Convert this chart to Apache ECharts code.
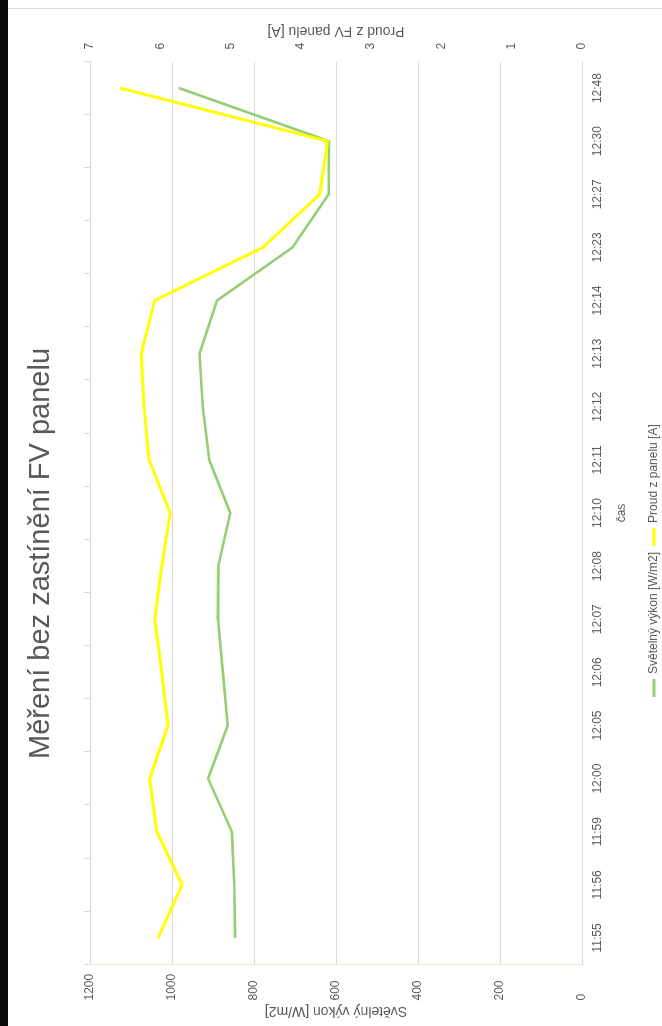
<!DOCTYPE html>
<html>
<head>
<meta charset="utf-8">
<script src="https://cdn.jsdelivr.net/npm/echarts@6/dist/echarts.min.js"></script>
<style>
  html, body { margin: 0; padding: 0; background: #fff; overflow: hidden; width: 662px; height: 1026px; }
  #edge { position: absolute; left: 0; top: 0; width: 8px; height: 1026px; background: #0a0a0a; }
  #frame { position: absolute; left: 8px; top: 8px; width: 660px; height: 1px; background: #dcdcdc; }
  /* chart is laid out landscape and turned a quarter turn counter-clockwise */
  #chart { position: absolute; left: 0; top: 1026px; width: 1026px; height: 662px;
           transform-origin: 0 0; transform: rotate(-90deg); }
</style>
</head>
<body>
<div id="edge"></div>
<div id="frame"></div>
<div id="chart"></div>
<script>
// measurement times
const categories = ['11:55', '11:56', '11:59', '12:00', '12:05', '12:06', '12:07', '12:08',
                    '12:10', '12:11', '12:12', '12:13', '12:14', '12:23', '12:27', '12:30', '12:48'];
// light power [W/m2]
const irradiance = [846, 848, 854, 912, 864, 876, 888, 887, 858, 909, 925, 933, 890, 706, 618, 617, 983];
// panel current [A]
const current = [6.03, 5.69, 6.05, 6.15, 5.89, 5.98, 6.08, 5.98, 5.86, 6.16, 6.23, 6.27, 6.08, 4.54, 3.73, 3.62, 6.57];

const seriesNames = ['Světelný výkon [W/m2]', 'Proud z panelu [A]'];
const txt = '#595959';
const font = '"Liberation Sans", Arial, sans-serif';

const chart = echarts.init(document.getElementById('chart'), null, { renderer: 'canvas', width: 1026, height: 662 });
chart.setOption({
  animation: false,
  textStyle: { fontFamily: font, color: txt },
  title: {
    text: 'Měření bez zastínění FV panelu',
    left: 262, top: 21,
    textStyle: { fontFamily: font, fontSize: 29, fontWeight: 'normal', color: txt }
  },
  legend: {
    data: seriesNames,
    left: 324, top: 643,
    icon: 'rect', itemWidth: 18, itemHeight: 3, itemGap: 6,
    textStyle: { fontFamily: font, fontSize: 12, color: txt }
  },
  grid: { left: 61.5, right: 61.5, top: 90, bottom: 80 },
  xAxis: [
    {
      type: 'category', data: categories, boundaryGap: true, position: 'bottom',
      axisLine: { show: true, lineStyle: { color: '#d9d9d9' } },
      axisTick: { show: false },
      axisLabel: { color: txt, fontSize: 12, margin: 10, fontFamily: font },
      name: 'čas', nameLocation: 'middle', nameGap: 34, nameMoveOverlap: false,
      nameTextStyle: { fontSize: 12, color: txt, fontFamily: font }
    },
    {
      // tick marks along the far edge of the plot
      type: 'category', data: categories, boundaryGap: true, position: 'top',
      axisLine: { show: false, onZero: false },
      axisTick: { show: true, length: 6, lineStyle: { color: '#d9d9d9' } },
      axisLabel: { show: false }
    }
  ],
  yAxis: [
    {
      type: 'value', position: 'left', min: 0, max: 1200, interval: 200,
      axisLine: { show: true, lineStyle: { color: '#e4ecd6' } },
      axisTick: { show: false },
      splitLine: { lineStyle: { color: '#d9d9d9', width: 1 } },
      axisLabel: { color: txt, fontSize: 12, margin: 36, align: 'left', fontFamily: font,
                   formatter: v => String(v) },
      name: seriesNames[0], nameLocation: 'middle', nameRotate: 90, nameGap: 39,
      nameMoveOverlap: false,
      nameTextStyle: { fontSize: 14, color: txt, fontFamily: font }
    },
    {
      type: 'value', position: 'right', min: 0, max: 7, interval: 1,
      axisLine: { show: false }, axisTick: { show: false },
      splitLine: { show: false },
      axisLabel: { color: txt, fontSize: 12, margin: 12, fontFamily: font },
      name: 'Proud z FV panelu [A]', nameLocation: 'middle', nameRotate: 90, nameGap: 24,
      nameMoveOverlap: false,
      nameTextStyle: { fontSize: 14, color: txt, fontFamily: font }
    }
  ],
  series: [
    {
      name: seriesNames[0], type: 'line', data: irradiance,
      xAxisIndex: 0, yAxisIndex: 0,
      showSymbol: false, smooth: false,
      itemStyle: { color: '#94cf72' },
      lineStyle: { color: '#94cf72', width: 2.6, join: 'round' },
      z: 3
    },
    {
      name: seriesNames[1], type: 'line', data: current,
      xAxisIndex: 0, yAxisIndex: 1,
      showSymbol: false, smooth: false,
      itemStyle: { color: '#ffff00' },
      lineStyle: { color: '#ffff00', width: 3, join: 'round' },
      z: 4
    }
  ]
});
</script>
</body>
</html>
